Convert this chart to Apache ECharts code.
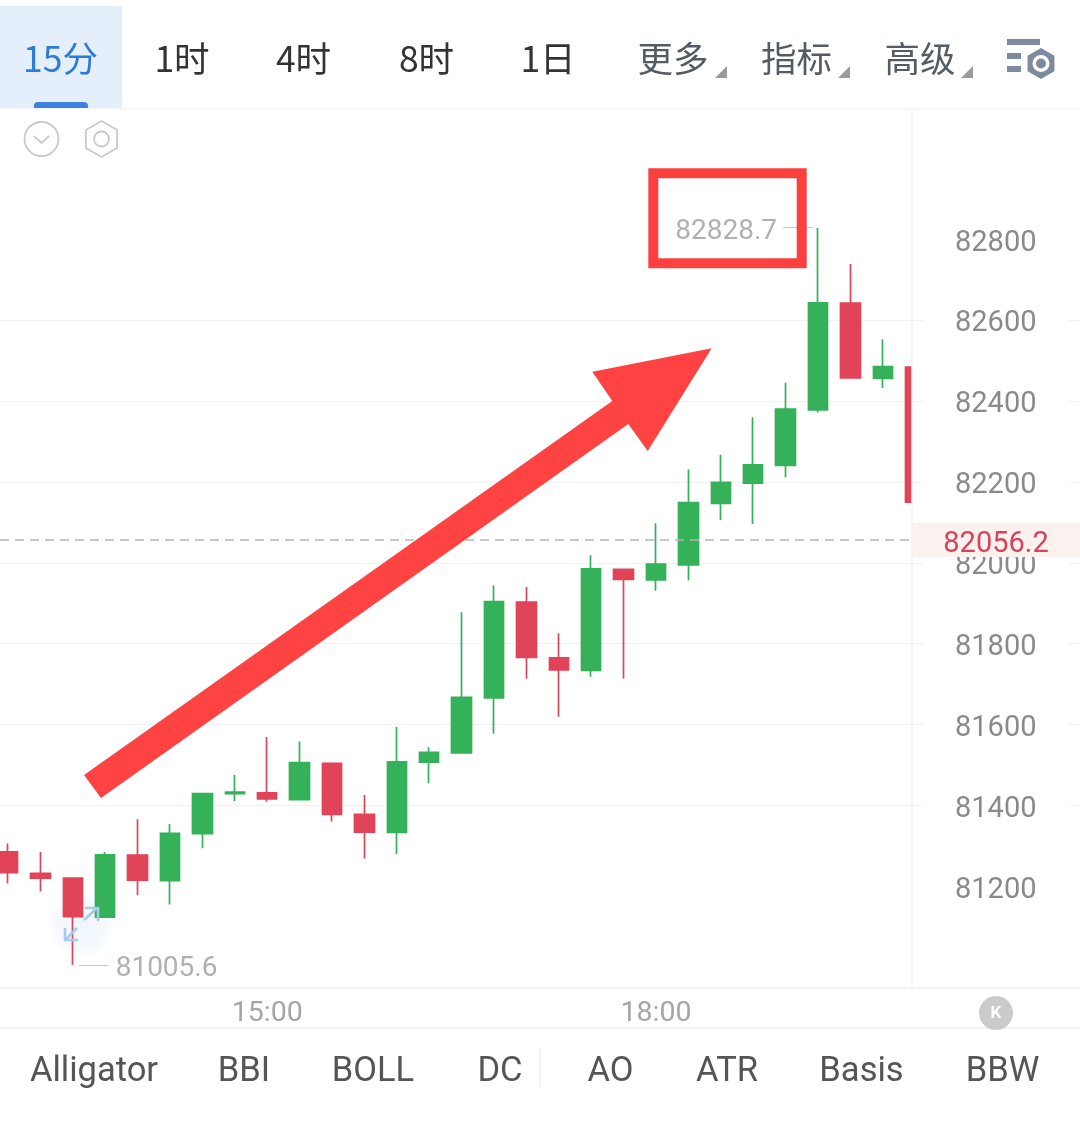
<!DOCTYPE html>
<html><head><meta charset="utf-8">
<style>html,body{margin:0;padding:0;background:#fff}#c{width:1080px;height:1148px}</style>
<script src="https://cdn.jsdelivr.net/npm/echarts@6/dist/echarts.min.js"></script>
</head><body><div id="c"></div>
<script>
const times = ['13:00','13:15','13:30','13:45','14:00','14:15','14:30','14:45','15:00','15:15','15:30','15:45','16:00','16:15','16:30','16:45','17:00','17:15','17:30','17:45','18:00','18:15','18:30','18:45','19:00','19:15','19:30','19:45','20:00'];
const opens  = [81285,81232,81220,81124,81277,81214,81330,81429,81431,81414,81504,81378,81333,81507,81530,81666,81903,81765,81734,81984,81958,81995,82147,82197,82241,82378,82642,82456,82484];
const closes = [81234,81220,81125,81278,81215,81331,81429,81433,81416,81506,81378,81334,81508,81531,81667,81904,81766,81735,81985,81959,81997,82149,82199,82242,82380,82643,82457,82485,82150];
const lows   = [81207,81187,81005.6,81124,81178,81155,81294,81411,81409,81414,81360,81269,81280,81455,81530,81577,81713,81619,81718,81714,81931,81957,82106,82096,82211,82372,82455,82432,82150];
const highs  = [81306,81285,81220,81285,81366,81354,81430,81475,81569,81558,81504,81426,81594,81544,81878,81944,81940,81826,82019,81984,82098,82231,82267,82360,82445,82828.7,82739,82553,82484];
const yTicks = [81200,81400,81600,81800,82000,82200,82400,82600,82800];
const xTicks = ['15:00','18:00'];
const lastPrice = 82056.2, maxPrice = 82828.7, minPrice = 81005.6;
const maxIndex = 25, minIndex = 2;
const tabs = ['15分','1时','4时','8时','1日','更多','指标','高级'];
const indicators = ['Alligator','BBI','BOLL','DC','AO','ATR','Basis','BBW'];

const T = s => { const p = s.split(':'); return (+p[0]) * 60 + (+p[1]); }; // minutes of the day
const pad = n => String(n).padStart(2, '0');
const Y_MIN = 80948.5, Y_MAX = 83119.8;
const X_MIN = T('13:00') - 3.7, X_MAX = T('13:00') + 418.5;
const CN = '"Noto Sans CJK SC"', RB = 'Roboto';
const splitColor = '#f1f2f3';

const tabPos = [[60.5,'#2E7BD6'],[182,'#333'],[303.5,'#333'],[426.5,'#333'],[548,'#333'],[673,'#555b63'],[796.5,'#555b63'],[920,'#555b63']];
const indPos = [94,244,373,500,610.5,727,861.5,1002.5];

function txt(t, x, y, size, color, family, align) {
  return {type:'text', z:50, style:{text:t, x, y, fontSize:size, fill:color, fontFamily:family, align:align||'center', verticalAlign:'middle'}};
}
const g = [];
g.push({type:'rect', z:1, shape:{x:0,y:6,width:122,height:102}, style:{fill:'#E5EFFB'}});
g.push({type:'rect', z:2, shape:{x:34,y:102,width:54,height:6,r:[4,4,0,0]}, style:{fill:'#3F82DD'}});
g.push({type:'line', z:1, shape:{x1:0,y1:108.5,x2:1080,y2:108.5}, style:{stroke:'#f2f3f4',lineWidth:1.5}});
g.push({type:'line', z:1, shape:{x1:0,y1:1028,x2:1080,y2:1028}, style:{stroke:'#f2f3f4',lineWidth:2}});
tabs.forEach((t,i)=>g.push(txt(t, tabPos[i][0], 59, 35.5, tabPos[i][1], CN)));
[727,850,973].forEach(x=>g.push({type:'polygon', z:50, shape:{points:[[x,66],[x,78],[x-12,78]]}, style:{fill:'#9a9a9a'}}));
// settings icon
[[1007,39,33,6],[1007,53,14,6],[1007,66,14,6]].forEach(r=>g.push({type:'rect', z:50, shape:{x:r[0],y:r[1],width:r[2],height:r[3]}, style:{fill:'#7E8B9C'}}));
function hex(cx,cy,r){const p=[];for(let i=0;i<6;i++){const a=Math.PI/6+i*Math.PI/3;p.push([cx+r*Math.cos(a),cy+r*Math.sin(a)]);}return p;}
g.push({type:'polygon', z:50, shape:{points:hex(1041,63.5,15.5)}, style:{fill:'#7E8B9C'}});
g.push({type:'circle', z:51, shape:{cx:1041,cy:63.5,r:8.5}, style:{fill:'#fff'}});
g.push({type:'circle', z:52, shape:{cx:1041,cy:63.5,r:5}, style:{fill:'#7E8B9C'}});
// small icons
g.push({type:'circle', z:50, shape:{cx:41.5,cy:139,r:17}, style:{fill:'none',stroke:'#c8cacc',lineWidth:1.8}});
g.push({type:'polyline', z:50, shape:{points:[[34,136],[41.5,143],[49,136]]}, style:{fill:'none',stroke:'#c8cacc',lineWidth:1.8}});
g.push({type:'polygon', z:50, shape:{points:hex(101.5,139,18)}, style:{fill:'none',stroke:'#c8cacc',lineWidth:1.8}});
g.push({type:'circle', z:50, shape:{cx:101.5,cy:139,r:7.5}, style:{fill:'none',stroke:'#c8cacc',lineWidth:1.8}});
// drag hint
g.push({type:'circle', z:1, shape:{cx:81,cy:925,r:36}, style:{fill:{type:'radial',x:0.5,y:0.5,r:0.5,colorStops:[{offset:0,color:'rgba(236,243,253,0.8)'},{offset:0.7,color:'rgba(240,246,254,0.6)'},{offset:1,color:'rgba(246,250,255,0)'}]}}});
[[[84,920],[97,908]],[[85,908],[98,908],[98,921]],[[77,928],[65,940]],[[65,928],[65,940],[78,940]]].forEach(p=>g.push({type:'polyline', z:41, shape:{points:p}, style:{fill:'none',stroke:'#A9C9EF',lineWidth:2.6}}));
// the right price panel hides whatever runs past the plot edge
g.push({type:'rect', z:3, shape:{x:912,y:355,width:20,height:160}, style:{fill:'#fff'}});
// annotation
g.push({type:'polygon', z:60, shape:{points:[[84,775],[612.3,401],[592.3,371.7],[711.7,348.3],[647.7,451],[628.3,424],[101,798]]}, style:{fill:'#FF4343'}});
g.push({type:'rect', z:60, shape:{x:653.3,y:173.3,width:148.4,height:90}, style:{fill:'none',stroke:'#FB4040',lineWidth:10}});
// K button
g.push({type:'circle', z:50, shape:{cx:996,cy:1013,r:17}, style:{fill:'#cbcbcb'}});
g.push({type:'text', z:51, style:{text:'K', x:996, y:1014, fontSize:17, fontWeight:'bold', fill:'#fff', fontFamily:RB, align:'center', verticalAlign:'middle'}});
// indicators
indicators.forEach((t,i)=>g.push(txt(t, indPos[i], 1072, 34.5, '#555', RB)));
g.push({type:'line', z:50, shape:{x1:540,y1:1048,x2:540,y2:1087}, style:{stroke:'#e6e6e6',lineWidth:1}});

const richLabel = (size, color, top) => ({a:{fontFamily:RB, fontSize:size, color, padding:[top,0,0,0]}});
const rt = v => '{a|' + v + '}';

const chart = echarts.init(document.getElementById('c'), null, {renderer:'canvas'});
chart.setOption({
  animation:false,
  backgroundColor:'transparent',
  graphic:g,
  grid:[
    {left:0, width:912, top:110, height:878},
    {left:912, width:168, top:110, height:878}
  ],
  xAxis:[
    {type:'value', gridIndex:0, min:X_MIN, max:X_MAX,
     axisLine:{show:true,onZero:false,lineStyle:{color:'#eef0f1',width:1.5}}, axisTick:{show:false}, splitLine:{show:false},
     axisLabel:{customValues:xTicks.map(T), margin:11, fontFamily:RB, fontSize:28.5, color:'#a5a5a5',
       formatter:v=>pad(Math.floor(v/60))+':'+pad(v%60)}},
    {type:'value', gridIndex:1, min:0, max:1, axisLine:{show:true,onZero:false,lineStyle:{color:'#eef0f1',width:1.5}}, axisTick:{show:false}, axisLabel:{show:false}, splitLine:{show:false}}
  ],
  yAxis:[
    {type:'value', gridIndex:0, min:Y_MIN, max:Y_MAX, axisLine:{show:false}, axisTick:{show:false, customValues:yTicks}, axisLabel:{show:false, customValues:yTicks},
     splitLine:{show:true, showMinLine:false, showMaxLine:false, lineStyle:{color:splitColor,width:1}}},
    {type:'value', gridIndex:1, min:Y_MIN, max:Y_MAX, position:'left', z:5,
     axisLine:{show:true,onZero:false,lineStyle:{color:'#f1f2f3',width:1.5}}, axisTick:{show:false, customValues:yTicks},
     axisLabel:{customValues:yTicks, inside:true, margin:12, align:'left', fontFamily:RB, fontSize:29, color:'#8a8a8a',
       backgroundColor:'#fff', padding:[0,32,0,31], formatter:v=>rt(v), rich:richLabel(29,'#8a8a8a',8)},
     splitLine:{show:true, showMinLine:false, showMaxLine:false, lineStyle:{color:splitColor,width:1}}}
  ],
  series:[
    {type:'candlestick', xAxisIndex:0, yAxisIndex:0, clip:true, barWidth:20,
     data:times.map((t,i)=>[T(t),opens[i],closes[i],lows[i],highs[i]]),
     itemStyle:{color:'#35B159',color0:'#E14358',borderColor:'#35B159',borderColor0:'#E14358',borderWidth:1.7},
     markLine:{silent:true, symbol:'none', animation:false,
       data:[
         [{coord:[X_MIN,lastPrice], lineStyle:{color:'#b4b6b8',type:[9,6],width:1.5}, label:{show:false}},{coord:[X_MAX,lastPrice]}],
         [{coord:[T(times[maxIndex])-16.2,maxPrice], lineStyle:{color:'#cfcfcf',type:'solid',width:1.2},
           label:{show:true,position:'start',formatter:rt(maxPrice),distance:6,rich:richLabel(28,'#b0b0b0',8)}},
          {coord:[T(times[maxIndex])-2.3,maxPrice]}],
         [{coord:[T(times[minIndex])+2.8,minPrice], lineStyle:{color:'#cfcfcf',type:'solid',width:1.2},
           label:{show:true,position:'end',formatter:rt(minPrice),distance:7,rich:richLabel(28,'#b0b0b0',8)}},
          {coord:[T(times[minIndex])+16.6,minPrice]}]
       ]}
    },
    {type:'line', xAxisIndex:1, yAxisIndex:1, z:6, data:[[0.5,lastPrice]], showSymbol:false, silent:true, lineStyle:{opacity:0},
     markPoint:{silent:true, animation:false, symbol:'rect', symbolSize:[168,34], z:7,
       itemStyle:{color:'#FBF1EF'},
       label:{show:true,position:'inside',formatter:rt(lastPrice),rich:richLabel(29,'#D8435A',10)},
       data:[{coord:[0.5,lastPrice]}]}}
  ]
});
</script></body></html>
